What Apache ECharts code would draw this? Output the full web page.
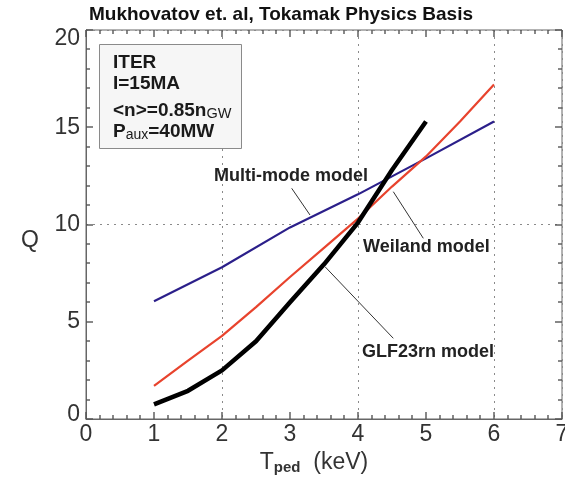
<!DOCTYPE html>
<html>
<head>
<meta charset="utf-8">
<script src="https://cdn.jsdelivr.net/npm/echarts@6/dist/echarts.min.js"></script>
<style>
html,body{margin:0;padding:0;background:#fff;}
#chart{width:565px;height:478px;}
</style>
</head>
<body>
<div id="chart"></div>
<script>
// ---- data ----
const titleText = 'Mukhovatov et. al, Tokamak Physics Basis';
const xTicks = [0, 1, 2, 3, 4, 5, 6, 7];
const yTicks = [0, 5, 10, 15, 20];
const xMinorPerMajor = 5;   // minor tick every 0.2 keV
const yMinorPerMajor = 5;   // minor tick every 1
const gridX = [2, 4, 6];
const gridY = [10];

const glfT = [1, 1.5, 2, 2.5, 3, 3.5, 4, 4.5, 5];
const glfQ = [0.75, 1.45, 2.5, 4.0, 6.0, 7.95, 10.1, 12.8, 15.3];

const weilandT = [1, 1.5, 2, 2.5, 3, 3.5, 4, 4.5, 5, 5.5, 6];
const weilandQ = [1.7, 3.0, 4.27, 5.75, 7.3, 8.8, 10.3, 11.95, 13.5, 15.3, 17.2];

const multiT = [1, 2, 3, 4, 5, 6];
const multiQ = [6.05, 7.8, 9.85, 11.55, 13.4, 15.3];

const seriesNames = ['GLF23rn model', 'Weiland model', 'Multi-mode model'];
const boxLines = ['ITER', 'I=15MA', '<n>=0.85n', 'GW', 'P', 'aux', '=40MW'];

// ---- chart ----
const FONT = 'Liberation Sans, Arial, sans-serif';
const AX = '#666';
const TICK = '#555';
const chart = echarts.init(document.getElementById('chart'), null, {renderer: 'canvas'});

function zip(xs, ys) { return xs.map((x, i) => [x, ys[i]]); }

const G = {left: 86, top: 30, width: 476, height: 389};
const xMin = xTicks[0], xMax = xTicks[xTicks.length - 1];
const yMin = yTicks[0], yMax = yTicks[yTicks.length - 1];

// tick-mark positions (major from the tick arrays, minor subdividing them)
function tickMarks(ticks, nMinor) {
  const out = [];
  for (let i = 0; i < ticks.length; i++) {
    out.push({value: [ticks[i], 7]});
    if (i < ticks.length - 1) {
      const step = (ticks[i + 1] - ticks[i]) / nMinor;
      for (let k = 1; k < nMinor; k++) out.push({value: [ticks[i] + k * step, 4]});
    }
  }
  return out;
}
const xTickMarks = tickMarks(xTicks, xMinorPerMajor);
const yTickMarks = tickMarks(yTicks, yMinorPerMajor);

// inward tick marks on all four sides, placed with the chart's own scale
function tickGraphics() {
  const els = [];
  const toPx = (x, y) => chart.convertToPixel({gridIndex: 0}, [x, y]);
  const st = {stroke: TICK, lineWidth: 1.4};
  xTickMarks.forEach(function (d) {
    const v = d.value[0], len = d.value[1];
    const b = toPx(v, yMin), t = toPx(v, yMax);
    const x = Math.round(b[0]);
    els.push({type: 'line', z: 20, silent: true, shape: {x1: x, y1: b[1], x2: x, y2: b[1] - len}, style: st});
    els.push({type: 'line', z: 20, silent: true, shape: {x1: x, y1: t[1], x2: x, y2: t[1] + len}, style: st});
  });
  yTickMarks.forEach(function (d) {
    const v = d.value[0], len = d.value[1];
    const l = toPx(xMin, v), r = toPx(xMax, v);
    const y = Math.round(l[1]);
    els.push({type: 'line', z: 20, silent: true, shape: {x1: l[0], y1: y, x2: l[0] + len, y2: y}, style: st});
    els.push({type: 'line', z: 20, silent: true, shape: {x1: r[0], y1: y, x2: r[0] - len, y2: y}, style: st});
  });
  return els;
}

function gridAxis(kind, position, values) {
  return {
    type: 'value', gridIndex: 0, position: position,
    min: kind === 'x' ? xMin : yMin, max: kind === 'x' ? xMax : yMax,
    interval: values[1] - values[0],
    axisLine: {show: false, onZero: false}, axisTick: {show: false}, axisLabel: {show: false},
    splitLine: {show: true, lineStyle: {color: '#8a8a8a', width: 1, type: [2, 5]}}
  };
}

const option = {
  animation: false,
  backgroundColor: '#fff',
  title: {
    text: titleText, left: 89, top: 5, padding: 0,
    textStyle: {fontFamily: FONT, fontSize: 19, fontWeight: 'bold', color: '#111'}
  },
  grid: Object.assign({containLabel: false, outerBoundsMode: 'none', show: true, borderColor: AX, borderWidth: 1, backgroundColor: 'transparent'}, G),
  xAxis: [
    {
      type: 'value', gridIndex: 0, position: 'bottom', min: xMin, max: xMax, interval: 1,
      axisLine: {show: true, onZero: false, lineStyle: {color: AX, width: 1}},
      axisTick: {show: false}, splitLine: {show: false},
      axisLabel: {show: true, fontFamily: FONT, fontSize: 23, color: '#333', margin: 4},
      name: '{t|T}{s|ped}{t|  (keV)}',
      nameLocation: 'middle', nameGap: 29,
      nameTextStyle: {
        padding: [0, 20, 0, 0],
        rich: {
          t: {fontFamily: FONT, fontSize: 23, color: '#333', lineHeight: 26},
          s: {fontFamily: FONT, fontSize: 15, fontWeight: 'bold', color: '#333', verticalAlign: 'bottom', lineHeight: 12}
        }
      }
    },
    gridAxis('x', 'top', [0].concat(gridX))
  ],
  yAxis: [
    {
      type: 'value', gridIndex: 0, position: 'left', min: yMin, max: yMax, interval: 5,
      axisLine: {show: true, onZero: false, lineStyle: {color: AX, width: 1}},
      axisTick: {show: false}, splitLine: {show: false},
      axisLabel: {
        show: true, fontFamily: FONT, fontSize: 23, color: '#333', margin: 6,
        formatter: function (v) {
          if (v === yMax) return '{top|' + v + '}';
          if (v === yMin) return '{bot|' + v + '}';
          return String(v);
        },
        rich: {
          top: {fontFamily: FONT, fontSize: 23, color: '#333', padding: [18, 0, 0, 0]},
          bot: {fontFamily: FONT, fontSize: 23, color: '#333', padding: [0, 0, 8, 0]}
        }
      },
      name: 'Q', nameLocation: 'middle', nameRotate: 0, nameGap: 47,
      nameTextStyle: {fontFamily: FONT, fontSize: 23, color: '#333', verticalAlign: 'top', padding: [5, 0, 0, 0]}
    },
    gridAxis('y', 'right', [0].concat(gridY))
  ],
  series: [
    {
      name: seriesNames[2], type: 'line', xAxisIndex: 0, yAxisIndex: 0,
      data: zip(multiT, multiQ), showSymbol: false, symbol: 'none', z: 3,
      lineStyle: {color: '#2b1f8a', width: 2.2}
    },
    {
      name: seriesNames[1], type: 'line', xAxisIndex: 0, yAxisIndex: 0,
      data: zip(weilandT, weilandQ), showSymbol: false, symbol: 'none', z: 4,
      lineStyle: {color: '#e8432d', width: 2.2}
    },
    {
      name: seriesNames[0], type: 'line', xAxisIndex: 0, yAxisIndex: 0,
      data: zip(glfT, glfQ), showSymbol: false, symbol: 'none', z: 5,
      lineStyle: {color: '#000', width: 4.5, join: 'round', cap: 'butt'}
    }
  ],
  graphic: [
    {
      type: 'rect', z: 10,
      shape: {x: 99.5, y: 44.5, width: 142, height: 104},
      style: {fill: '#f6f6f6', stroke: '#8a8a8a', lineWidth: 1}
    },
    {type: 'text', z: 11, x: 113, y: 63, style: {text: boxLines[0], font: 'bold 19px ' + FONT, fill: '#1a1a1a', verticalAlign: 'middle'}},
    {type: 'text', z: 11, x: 113, y: 83.5, style: {text: boxLines[1], font: 'bold 19px ' + FONT, fill: '#1a1a1a', verticalAlign: 'middle'}},
    {type: 'text', z: 11, x: 113, y: 111, style: {
      text: '{b|' + boxLines[2] + '}{g|' + boxLines[3] + '}', verticalAlign: 'middle',
      rich: {
        b: {fontFamily: FONT, fontSize: 19, fontWeight: 'bold', fill: '#1a1a1a', lineHeight: 20},
        g: {fontFamily: FONT, fontSize: 14.5, fill: '#1a1a1a', verticalAlign: 'bottom', lineHeight: 8}
      }
    }},
    {type: 'text', z: 11, x: 113, y: 132, style: {
      text: '{b|' + boxLines[4] + '}{a|' + boxLines[5] + '}{b|' + boxLines[6] + '}', verticalAlign: 'middle',
      rich: {
        b: {fontFamily: FONT, fontSize: 19, fontWeight: 'bold', fill: '#1a1a1a', lineHeight: 20},
        a: {fontFamily: FONT, fontSize: 14, fill: '#1a1a1a', verticalAlign: 'bottom', lineHeight: 14}
      }
    }},
    // annotations
    {type: 'text', z: 12, x: 214, y: 176, style: {text: seriesNames[2], font: 'bold 18px ' + FONT, fill: '#222', verticalAlign: 'middle'}},
    {type: 'text', z: 12, x: 363, y: 247, style: {text: seriesNames[1], font: 'bold 18px ' + FONT, fill: '#222', verticalAlign: 'middle'}},
    {type: 'text', z: 12, x: 362, y: 352, style: {text: seriesNames[0], font: 'bold 18px ' + FONT, fill: '#222', verticalAlign: 'middle'}},
    {type: 'line', z: 12, shape: {x1: 291.7, y1: 188.3, x2: 310, y2: 215}, style: {stroke: '#333', lineWidth: 1}},
    {type: 'line', z: 12, shape: {x1: 393.3, y1: 191.7, x2: 423.3, y2: 238.3}, style: {stroke: '#333', lineWidth: 1}},
    {type: 'line', z: 12, shape: {x1: 325, y1: 266.7, x2: 393.3, y2: 338.3}, style: {stroke: '#333', lineWidth: 1}}
  ]
};
chart.setOption(option);
// second pass: tick marks positioned through the chart's axes
chart.setOption({graphic: option.graphic.concat(tickGraphics())});
</script>
</body>
</html>
